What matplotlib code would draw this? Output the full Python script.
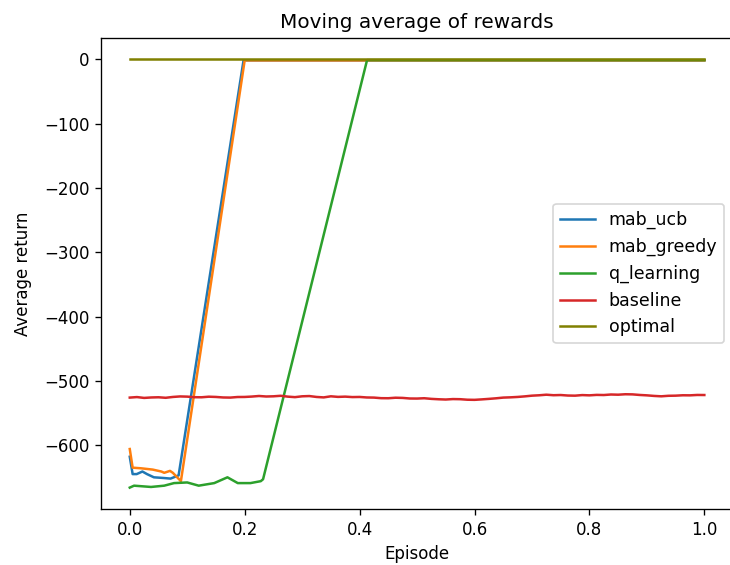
import matplotlib
matplotlib.use("Agg")
import matplotlib.pyplot as plt

# episode position (0..1) and moving-average return for each agent
ucb_x = [0.0, 0.005, 0.012, 0.022, 0.03, 0.042, 0.058, 0.071, 0.085, 0.198, 0.21, 1.0]
ucb_y = [-618, -645, -645, -641, -645, -650, -651, -652, -647, -1.5, -1.5, -1.5]

greedy_x = [0.0, 0.005, 0.02, 0.04, 0.055, 0.06, 0.07, 0.075, 0.089, 0.2, 1.0]
greedy_y = [-606, -635, -636, -638, -641, -643, -640, -643, -656, -1.5, -1.5]

qlearn_x = [0.0, 0.0075, 0.037, 0.06, 0.077, 0.1, 0.12, 0.147, 0.17, 0.188, 0.21, 0.228, 0.232, 0.413, 1.0]
qlearn_y = [-666, -663, -665, -663, -659, -658, -663, -659, -650, -659, -659, -656, -653, -1, -1]

base_x = [i * 0.0125 for i in range(81)]
base_y = [-526, -525.2, -526.5, -525.8, -525.5, -526.3, -525, -524.2, -524.5, -525.4,
          -525.5, -524.6, -525, -525.8, -526, -525.1, -525, -524.4, -523.5, -524.3,
          -524, -523.2, -524.5, -525.3, -524, -523.6, -525, -525.7, -524, -524.9,
          -524.5, -525.2, -525, -525.8, -526, -526.9, -527, -526.2, -526.5, -527.4,
          -527.5, -527, -528, -528.6, -529, -528.3, -528.5, -529.3, -529.5, -528.8,
          -528, -527.1, -526, -525.6, -525, -524.1, -523, -522.4, -521.5, -522.3,
          -522, -522.8, -523, -522.1, -522.5, -521.8, -522, -521.2, -521.5, -520.8,
          -521, -521.9, -522.5, -523.4, -524, -523.2, -523, -522.4, -522.5, -521.9, -522]

opt_x = [0.0, 1.0]
opt_y = [0, 0]

DPI = 120
fig = plt.figure(figsize=(730 / DPI, 565 / DPI), dpi=DPI)
ax = fig.add_axes([0.1384, 0.0991, 0.8658, 0.8336])

ax.plot(ucb_x, ucb_y, label="mab_ucb", color="tab:blue")
ax.plot(greedy_x, greedy_y, label="mab_greedy", color="tab:orange")
ax.plot(qlearn_x, qlearn_y, label="q_learning", color="tab:green")
ax.plot(base_x, base_y, label="baseline", color="tab:red")
ax.plot(opt_x, opt_y, label="optimal", color="olive")

ax.set_title("Moving average of rewards")
ax.set_xlabel("Episode")
ax.set_ylabel("Average return", labelpad=7)
ax.legend(loc="center right", fontsize=10.4)

fig.savefig("out.png", dpi=DPI)
